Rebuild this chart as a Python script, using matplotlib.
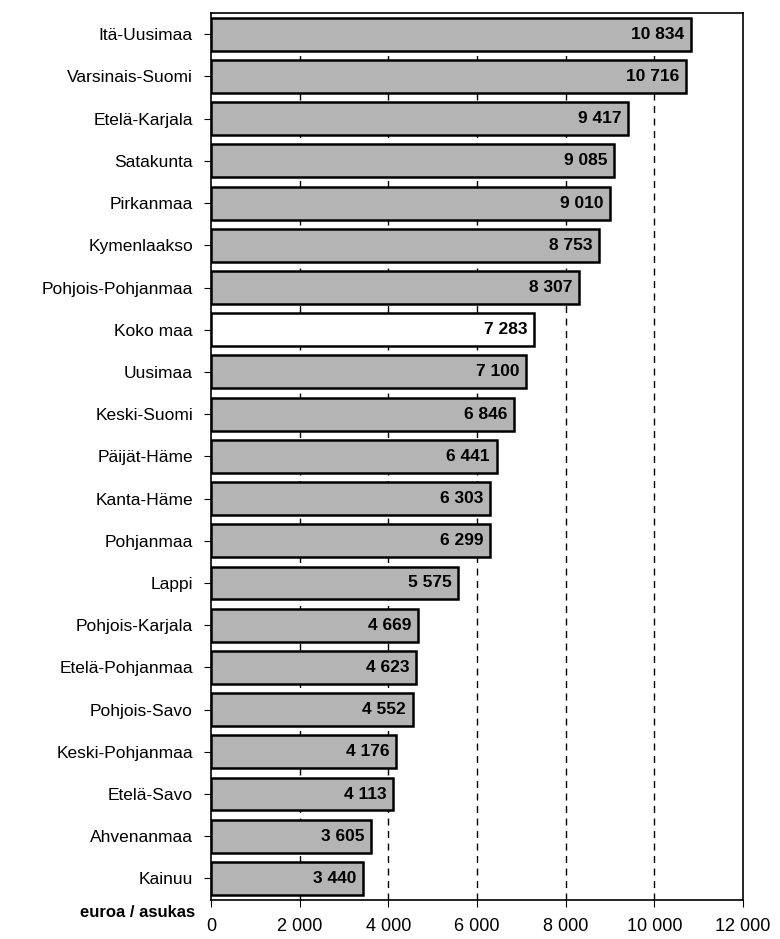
import matplotlib.pyplot as plt

# Data
regions = ['Itä-Uusimaa', 'Varsinais-Suomi', 'Etelä-Karjala', 'Satakunta', 'Pirkanmaa',
           'Kymenlaakso', 'Pohjois-Pohjanmaa', 'Koko maa', 'Uusimaa', 'Keski-Suomi',
           'Päijät-Häme', 'Kanta-Häme', 'Pohjanmaa', 'Lappi', 'Pohjois-Karjala',
           'Etelä-Pohjanmaa', 'Pohjois-Savo', 'Keski-Pohjanmaa', 'Etelä-Savo',
           'Ahvenanmaa', 'Kainuu']
values = [10834, 10716, 9417, 9085, 9010, 8753, 8307, 7283, 7100, 6846,
          6441, 6303, 6299, 5575, 4669, 4623, 4552, 4176, 4113, 3605, 3440]
xticks = [0, 2000, 4000, 6000, 8000, 10000, 12000]


def fmt(v):
    return f'{v:,}'.replace(',', ' ')


plt.rcParams['font.family'] = ['Liberation Sans', 'DejaVu Sans']

fig = plt.figure(figsize=(7.8, 9.39), dpi=100)
ax = fig.add_axes([0.2705, 0.042, 0.682, 0.944])

ypos = list(range(len(regions)))
colors = ['white' if r == 'Koko maa' else '#b4b4b4' for r in regions]
ax.barh(ypos, values, height=0.78, color=colors, edgecolor='black', linewidth=1.8, zorder=3)

for y, v in zip(ypos, values):
    ax.text(v - 150, y, fmt(v), ha='right', va='center', fontsize=12.5,
            fontweight='bold', zorder=4)

ax.set_ylim(len(regions) - 0.5, -0.5)
ax.set_xlim(0, 12000)
ax.set_yticks(ypos)
ax.set_yticklabels(regions, fontsize=12.5)
ax.set_xticks(xticks)
ax.set_xticklabels([fmt(t) for t in xticks], fontsize=13)

for t in xticks[1:-1]:
    ax.axvline(t, color='black', linestyle=(0, (5, 4)), linewidth=1.0, zorder=1)

for s in ax.spines.values():
    s.set_linewidth(1.2)
ax.tick_params(axis='y', length=5, direction='out', pad=8)
ax.tick_params(axis='x', length=5, direction='out', pad=8)

fig.text(0.25, 0.028, 'euroa / asukas', ha='right', va='center', fontsize=12,
         fontweight='bold')

fig.savefig('out.png', dpi=100)
